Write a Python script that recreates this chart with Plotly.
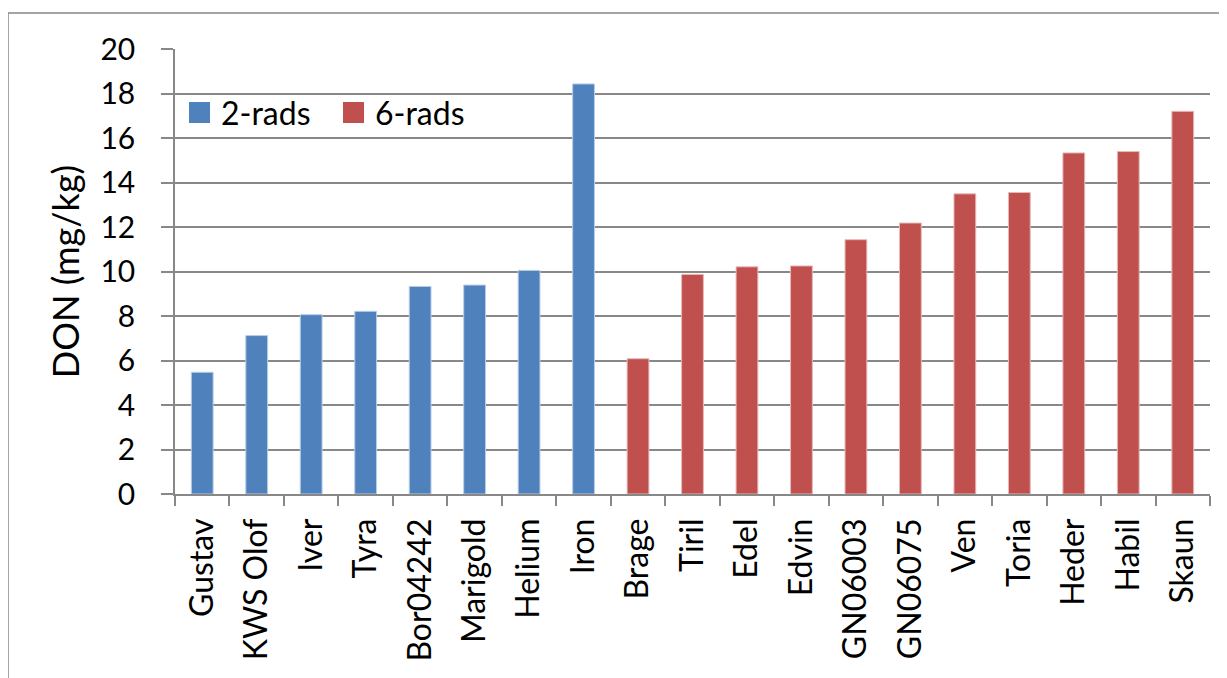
import plotly.graph_objects as go

cats_2rads = ["Gustav", "KWS Olof", "Iver", "Tyra", "Bor04242", "Marigold", "Helium", "Iron"]
vals_2rads = [5.47, 7.12, 8.06, 8.21, 9.33, 9.39, 10.05, 18.43]
cats_6rads = ["Brage", "Tiril", "Edel", "Edvin", "GN06003", "GN06075", "Ven", "Toria", "Heder", "Habil", "Skaun"]
vals_6rads = [6.08, 9.87, 10.21, 10.25, 11.43, 12.18, 13.49, 13.55, 15.33, 15.39, 17.2]
y_ticks = [0, 2, 4, 6, 8, 10, 12, 14, 16, 18, 20]
series_names = ["2-rads", "6-rads"]
series_colors = ["#4F81BD", "#C0504D"]

FONT = "Lato, Open Sans, DejaVu Sans, sans-serif"

fig = go.Figure()
fig.add_trace(go.Bar(x=cats_2rads, y=vals_2rads, name=series_names[0],
                     marker=dict(color=series_colors[0], line=dict(color="#B9CDE5", width=1))))
fig.add_trace(go.Bar(x=cats_6rads, y=vals_6rads, name=series_names[1],
                     marker=dict(color=series_colors[1], line=dict(color="#E6B9B8", width=1))))

PW, PH = 1035, 445
fig.update_layout(
    width=1227, height=678,
    margin=dict(l=167, r=1227 - 167 - PW, t=41, b=678 - 41 - PH),
    paper_bgcolor="white", plot_bgcolor="white",
    barmode="overlay", bargap=0.6,
    font=dict(family=FONT, color="black"),
    showlegend=False,
)
fig.update_xaxes(
    categoryorder="array", categoryarray=cats_2rads + cats_6rads,
    tickangle=-90, tickfont=dict(size=32, family=FONT),
    showline=True, linecolor="#888888", linewidth=1.5,
    ticks="outside", tickson="boundaries", ticklen=10, tickcolor="#888888", tickwidth=1.5,
    ticklabelstandoff=10,
    showgrid=False,
)
fig.update_yaxes(
    range=[0, 20], tickvals=y_ticks, tickfont=dict(size=30, family=FONT),
    showline=True, linecolor="#888888", linewidth=1.5,
    ticks="outside", ticklen=12, tickcolor="#888888", tickwidth=1.5,
    ticklabelstandoff=20,
    showgrid=True, gridcolor="#888888", gridwidth=1.5, zeroline=False,
    title=dict(text="DON (mg/kg)", font=dict(size=36, family=FONT), standoff=10),
)

# manual legend (large square swatches like the reference)
def px_x(p):
    return (p - 175) / PW
def px_y(p):
    return (494 - p) / PH

legend_x = [189, 343]
for lx, name, col in zip(legend_x, series_names, series_colors):
    fig.add_shape(type="rect", xref="paper", yref="paper",
                  x0=px_x(lx), x1=px_x(lx + 21), y0=px_y(123), y1=px_y(102),
                  line=dict(width=0), fillcolor=col)
    fig.add_annotation(xref="paper", yref="paper", x=px_x(lx + 30), y=px_y(112.5),
                       text=name, showarrow=False, xanchor="left", yanchor="middle",
                       font=dict(size=32, family=FONT, color="black"))

fig.add_shape(type="rect", xref="paper", yref="paper",
              x0=px_x(8), x1=px_x(1224), y0=px_y(700), y1=px_y(13),
              line=dict(color="#888888", width=1.5), fillcolor="rgba(0,0,0,0)", layer="below")

fig.write_html("out.html")
